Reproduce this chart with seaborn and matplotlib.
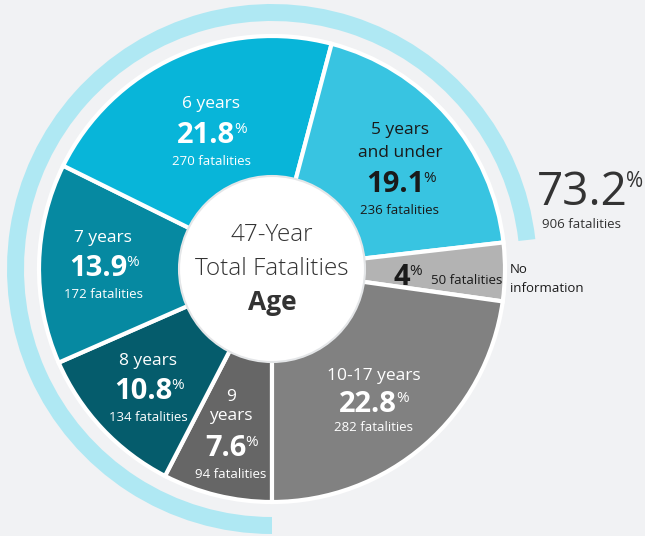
import matplotlib
matplotlib.use("Agg")
import matplotlib.pyplot as plt
import seaborn as sns
from matplotlib.patches import Circle

# %% Data
ages = ["9 years", "8 years", "7 years", "6 years", "5 years\nand under",
        "No information", "10-17 years"]
fatalities = [94, 134, 172, 270, 236, 50, 282]
pct_labels = ["7.6", "10.8", "13.9", "21.8", "19.1", "4", "22.8"]
under9_share = [73.2, 26.8]
under9_label = "73.2"
under9_count = 906

colors = ["#666666", "#055C6C", "#0689A1", "#08B5D9", "#38C4E1",
          "#B3B3B3", "#818181"]
arc_color = "#AFE8F3"
bg = "#F1F2F4"

sns.set_theme(style="white")
plt.rcParams["font.family"] = ["Open Sans", "DejaVu Sans"]

W, H = 645, 536
cx, cy = 272, H - 269

fig = plt.figure(figsize=(6.45, 5.36), dpi=100, facecolor=bg)
ax = fig.add_axes([0, 0, 1, 1])
ax.set_facecolor(bg)

# outer arc for ages 9 and under
ax.pie(under9_share, startangle=-90, counterclock=False, radius=265,
       center=(cx, cy), colors=[arc_color, "none"],
       wedgeprops=dict(width=17, linewidth=0))

# main pie
ax.pie(fatalities, startangle=-90, counterclock=False, radius=233,
       center=(cx, cy), colors=colors,
       wedgeprops=dict(edgecolor="white", linewidth=3))

ax.add_patch(Circle((cx, cy), 93, facecolor="white", edgecolor="#E4E6E8",
                    linewidth=1.5, zorder=5))

ax.set_xlim(0, W)
ax.set_ylim(0, H)
ax.set_aspect("equal")
ax.axis("off")

fig.canvas.draw()
renderer = fig.canvas.get_renderer()


def pct(x, y, num, color, size=21, psize=11, weight="bold"):
    t = ax.text(x, H - y, num, ha="center", va="baseline", fontsize=size,
                fontweight=weight, color=color, zorder=6)
    bb = t.get_window_extent(renderer=renderer)
    xr = ax.transData.inverted().transform((bb.x1, bb.y1))
    ax.text(xr[0] - 1, xr[1] - 1, "%", ha="left", va="top", fontsize=psize,
            color=color, zorder=6)


def txt(x, y, s, color, size=12.5, **kw):
    ax.text(x, H - y, s, ha=kw.pop("ha", "center"), va="baseline",
            fontsize=size, color=color, zorder=6, **kw)


white = "white"
dark = "#1A1A1A"

# 6 years
txt(211, 108, "6 years", white)
pct(206, 143, pct_labels[3], white)
txt(211, 165, f"{fatalities[3]} fatalities", white, 9.5)

# 5 years and under
txt(400, 134, "5 years", dark)
txt(400, 157, "and under", dark)
pct(395, 192, pct_labels[4], dark)
txt(400, 214, f"{fatalities[4]} fatalities", dark, 9.5)

# 7 years
txt(103, 242, "7 years", white)
pct(98, 276, pct_labels[2], white)
txt(103, 298, f"{fatalities[2]} fatalities", white, 9.5)

# 8 years
txt(148, 365, "8 years", white)
pct(143, 399, pct_labels[1], white)
txt(148, 421, f"{fatalities[1]} fatalities", white, 9.5)

# 9 years
txt(231, 401, "9", white)
txt(231, 420, "years", white)
pct(226, 456, pct_labels[0], white)
txt(231, 478, f"{fatalities[0]} fatalities", white, 9.5)

# 10-17 years
txt(374, 380, ages[6], white)
pct(368, 412, pct_labels[6], white)
txt(374, 431, f"{fatalities[6]} fatalities", white, 9.5)

# No information
pct(402, 285, pct_labels[5], dark)
txt(467, 284, f"{fatalities[5]} fatalities", dark, 9.5)
txt(510, 273, "No", dark, 9.5, ha="left")
txt(510, 292, "information", dark, 9.5, ha="left")

# 73.2 % total
pct(582, 205, under9_label, "#333333", size=33, psize=15, weight="normal")
txt(582, 228, f"{under9_count} fatalities", "#333333", 9.5)

# center label
txt(cx, 241, "47-Year", "#333333", 17.5, fontweight="light")
txt(cx, 275, "Total Fatalities", "#333333", 17.5, fontweight="light")
txt(cx, 310, "Age", "#333333", 19, fontweight="bold")

fig.savefig("out.png", dpi=100, facecolor=bg)
